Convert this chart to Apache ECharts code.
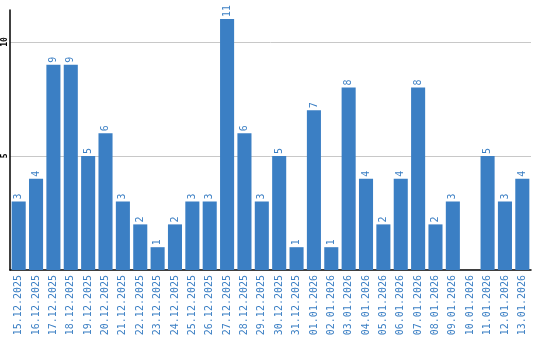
<!DOCTYPE html>
<html><head><meta charset="utf-8">
<script src="https://cdn.jsdelivr.net/npm/echarts@6/dist/echarts.min.js"></script>
<style>html,body{margin:0;padding:0;background:#fff}#c{width:540px;height:340px}</style>
</head><body><div id="c"></div>
<script>
const categories = ["15.12.2025","16.12.2025","17.12.2025","18.12.2025","19.12.2025","20.12.2025","21.12.2025","22.12.2025","23.12.2025","24.12.2025","25.12.2025","26.12.2025","27.12.2025","28.12.2025","29.12.2025","30.12.2025","31.12.2025","01.01.2026","02.01.2026","03.01.2026","04.01.2026","05.01.2026","06.01.2026","07.01.2026","08.01.2026","09.01.2026","10.01.2026","11.01.2026","12.01.2026","13.01.2026"];
const values = [3,4,9,9,5,6,3,2,1,2,3,3,11,6,3,5,1,7,1,8,4,2,4,8,2,3,0,5,3,4];
const yTicks = [0,5,10];
const chart = echarts.init(document.getElementById('c'));
chart.setOption({
  animation:false,
  grid:{left:10,right:9,top:10,bottom:70,containLabel:false},
  xAxis:{type:'category',data:categories,
    axisLine:{lineStyle:{color:'#000',width:1.5}},axisTick:{show:false},
    axisLabel:{rotate:90,interval:0,color:'#3b7fc4',fontFamily:'DejaVu Sans Mono',fontSize:10,margin:5}},
  yAxis:{type:'value',min:0,max:11.4,interval:5,
    axisLine:{show:true,lineStyle:{color:'#000',width:1.5}},axisTick:{show:false},
    splitLine:{showMaxLine:false,showMinLine:false,lineStyle:{color:'#c8c8c8'}},
    axisLabel:{rotate:90,color:'#000',fontFamily:'DejaVu Sans Mono',fontSize:8,fontWeight:'bold',margin:1,
      formatter:v=>yTicks.includes(v)&&v>0?String(v):''}},
  series:[{type:'bar',data:values,barCategoryGap:'19%',
    itemStyle:{color:'#3b7fc4'},
    label:{show:true,position:'top',rotate:90,align:'left',verticalAlign:'middle',distance:2,
      color:'#3b7fc4',fontFamily:'DejaVu Sans Mono',fontSize:10,
      formatter:p=>p.value?String(p.value):''}}]
});
</script></body></html>
